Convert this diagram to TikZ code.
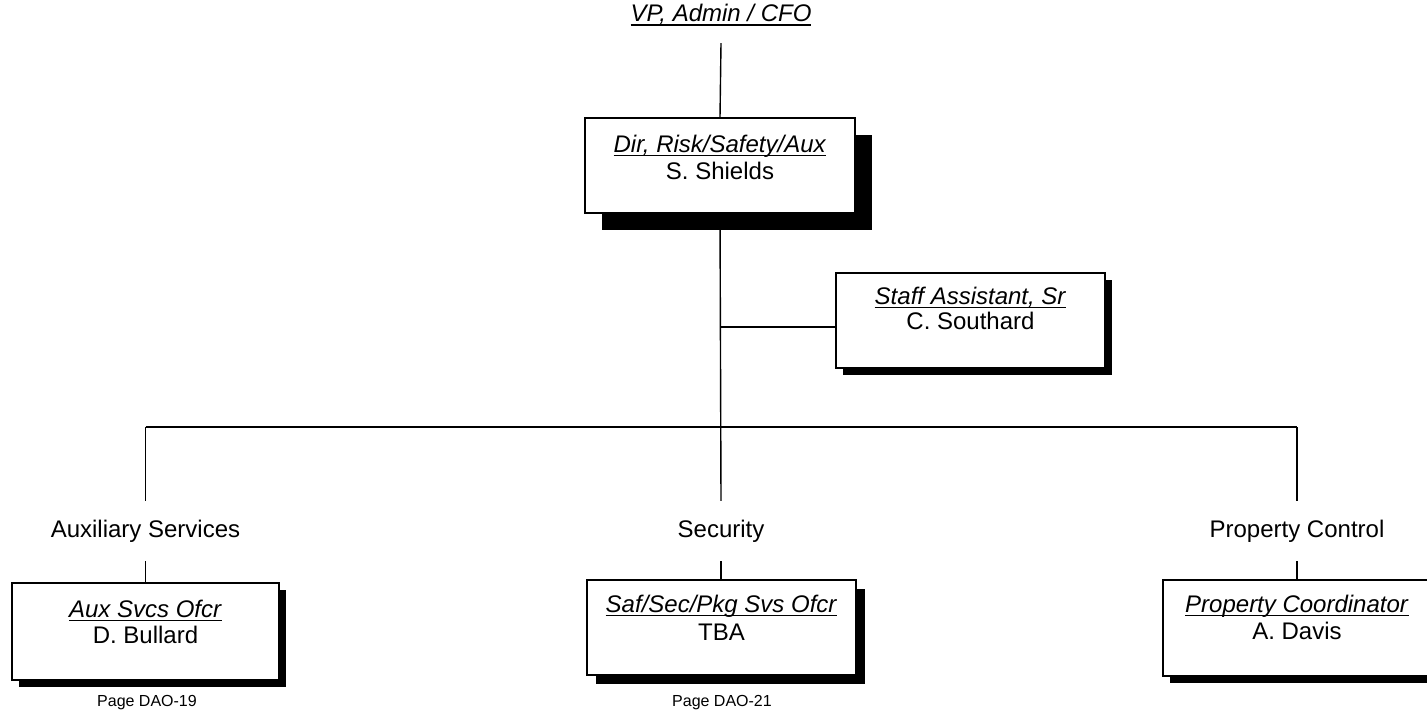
\documentclass[tikz,border=0pt]{standalone}
\usepackage{fontspec}
\setmainfont{Liberation Sans}
\usetikzlibrary{shadows}
\tikzset{
  box/.style={draw=black, fill=white, line width=1.6pt, minimum width=#1, minimum height=95pt, inner sep=0pt},
  box/.default=269pt,
  sh/.style={general shadow={fill=black, shadow xshift=#1, shadow yshift=-#1}},
  lbl/.style={inner sep=0pt, font=\fontsize{24}{28}\selectfont, minimum height=60pt},
  ttl/.style={inner sep=0pt, anchor=base, font=\fontsize{24}{28}\selectfont},
  pg/.style={inner sep=0pt, font=\fontsize{16}{19}\selectfont},
  conn/.style={line width=1.4pt}
}
\newcommand{\ttlu}[1]{\setbox0\hbox{\textit{#1}}\copy0\llap{\rule[-4.2pt]{\wd0}{1.9pt}}}
\begin{document}
\begin{tikzpicture}[x=1pt,y=-1pt]
\useasboundingbox (0,0) rectangle (1427,721);
% top
\node[lbl, minimum height=56pt] (vp) at (721,15) {\ttlu{VP, Admin / CFO}};
% boxes
\node[box=270pt, sh=17pt] (dir) at (720,165.5) {};
\node[ttl] (dirt) at ([yshift=-35pt]dir.north) {\ttlu{Dir, Risk/Safety/Aux}};
\node[ttl] (dirn) at ([yshift=-62pt]dir.north) {S. Shields};

\node[box=269pt, sh=7pt, minimum height=95pt] (staff) at (970.5,320.5) {};
\node[ttl] (stafft) at ([yshift=-32pt]staff.north) {\ttlu{Staff Assistant, Sr}};
\node[ttl] (staffn) at ([yshift=-57pt]staff.north) {C. Southard};

\node[box=267pt, sh=7pt, minimum height=97pt] (aux) at (145.5,631.5) {};
\node[ttl] (auxt) at ([yshift=-35pt]aux.north) {\ttlu{Aux Svcs Ofcr}};
\node[ttl] (auxn) at ([yshift=-61pt]aux.north) {D. Bullard};

\node[box=269pt, sh=9pt] (sec) at (721.5,627.5) {};
\node[ttl] (sect) at ([yshift=-33pt]sec.north) {\ttlu{Saf/Sec/Pkg Svs Ofcr}};
\node[ttl] (secn) at ([yshift=-61pt]sec.north) {TBA};

\node[box=268pt, sh=7pt, minimum height=96pt] (prop) at (1297,628) {};
\node[ttl] (propt) at ([yshift=-33pt]prop.north) {\ttlu{Property Coordinator}};
\node[ttl] (propn) at ([yshift=-60pt]prop.north) {A. Davis};

% labels
\node[lbl] (auxl) at (145.5,531) {Auxiliary Services};
\node[lbl] (secl) at (721,531) {Security};
\node[lbl] (propl) at (1297,531) {Property Control};

\node[pg] (pg1) at (147,703) {Page DAO-19};
\node[pg] (pg2) at (722,703) {Page DAO-21};

% connectors
\coordinate (bar) at (721,427);
\coordinate (sj) at (721,327);
\draw[conn] (vp.south) -- (dir.north);
\draw[conn] (dir.south) -- (secl.north);
\draw[conn] (sj) -- (sj -| staff.west);
\draw[conn] (bar -| auxl.north) -- (bar -| propl.north);
\draw[conn] (bar -| auxl.north) -- (auxl.north);
\draw[conn] (bar -| propl.north) -- (propl.north);
\draw[conn] (auxl.south) -- (auxl.south |- aux.north);
\draw[conn] (secl.south) -- (secl.south |- sec.north);
\draw[conn] (propl.south) -- (propl.south |- prop.north);
\end{tikzpicture}
\end{document}
